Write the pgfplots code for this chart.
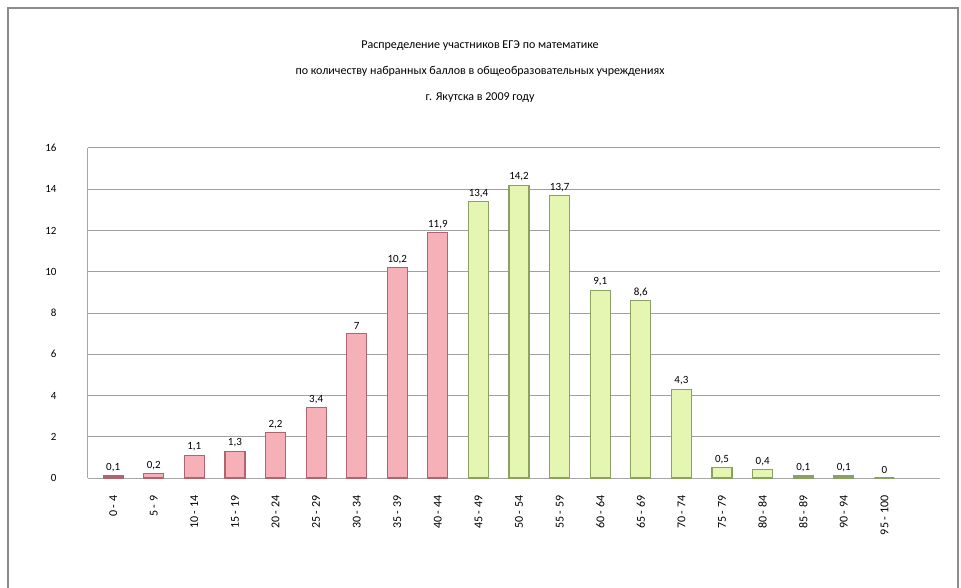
\documentclass[border=0pt]{standalone}
\usepackage{pgfplots}
\pgfplotsset{compat=1.18}
\usepackage{fontspec}
\setmainfont{Carlito}

\definecolor{pinkF}{RGB}{246,176,184}
\definecolor{pinkE}{RGB}{176,100,112}
\definecolor{grnF}{RGB}{228,246,178}
\definecolor{grnE}{RGB}{140,160,98}
\definecolor{gridc}{RGB}{160,160,160}

\begin{document}
\begin{tikzpicture}
\useasboundingbox (0pt,0pt) rectangle (961pt,587pt);
\draw[gray!90, line width=1.5pt] (8pt,-2pt) -- (8pt,579pt) -- (958pt,579pt) -- (958pt,-2pt);

\node[align=center, font=\fontsize{12}{26}\selectfont] at (480pt,515pt)
  {Распределение участников ЕГЭ по математике\\
   по количеству набранных баллов в общеобразовательных учреждениях\\
   г. Якутска в 2009 году};

\begin{axis}[
  at={(88pt,109pt)}, anchor=south west,
  scale only axis, width=852pt, height=330pt,
  ybar, bar width=20pt,
  xmin=0.38, xmax=21.37,
  ymin=0, ymax=16,
  ytick={0,2,...,16},
  ymajorgrids,
  major grid style={gridc, line width=1pt},
  axis line style={gray!70, line width=1pt},
  axis x line*=bottom, axis y line*=left,
  major tick length=0pt,
  xtick={1,...,20},
  xticklabels={0 - 4,5 - 9,10 - 14,15 - 19,20 - 24,25 - 29,30 - 34,35 - 39,40 - 44,45 - 49,50 - 54,55 - 59,60 - 64,65 - 69,70 - 74,75 - 79,80 - 84,85 - 89,90 - 94,95 - 100},
  xticklabel style={rotate=90, anchor=east, font=\fontsize{12}{13}\selectfont, xshift=-14pt},
  yticklabel style={font=\fontsize{11}{12}\selectfont, xshift=-28pt},
  /pgf/number format/assume math mode=true,
  /pgf/number format/use comma,
  nodes near coords,
  every node near coord/.append style={font=\fontsize{11}{12}\selectfont, /pgf/number format/fixed, /pgf/number format/precision=1, /pgf/number format/use comma},
  clip=false,
]
\addplot[bar shift=0pt, draw=pinkE, fill=pinkF, line width=1.2pt]
  coordinates {(1,0.1) (2,0.2) (3,1.1) (4,1.3) (5,2.2) (6,3.4) (7,7.0) (8,10.2) (9,11.9)};
\addplot[bar shift=0pt, draw=grnE, fill=grnF, line width=1.2pt]
  coordinates {(10,13.4) (11,14.2) (12,13.7) (13,9.1) (14,8.6) (15,4.3) (16,0.5) (17,0.4) (18,0.1) (19,0.1) (20,0.0)};
\end{axis}
\end{tikzpicture}
\end{document}
